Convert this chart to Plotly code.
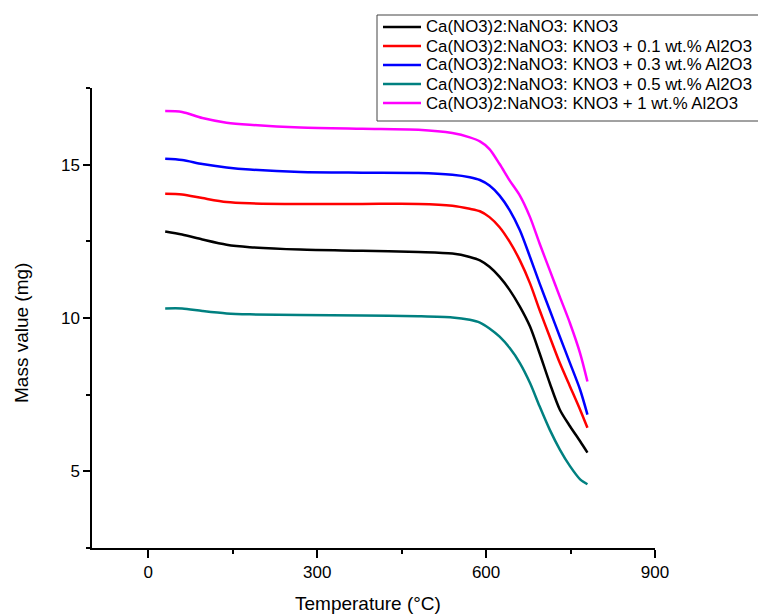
import plotly.graph_objects as go

temperature = [30, 60, 96, 139, 180, 270, 380, 480, 540, 571, 589, 606, 624, 642,
               660, 678, 695, 713, 731, 749, 767, 780]

mass_base = [12.82, 12.72, 12.56, 12.39, 12.31, 12.23, 12.19, 12.15, 12.10, 11.99, 11.88, 11.67, 11.34, 10.91,
             10.37, 9.72, 8.85, 7.88, 7.01, 6.47, 5.98, 5.61]
mass_01 = [14.05, 14.03, 13.91, 13.78, 13.74, 13.72, 13.72, 13.72, 13.66, 13.56, 13.48, 13.29, 12.96, 12.48,
           11.88, 11.13, 10.26, 9.39, 8.53, 7.77, 7.01, 6.42]
mass_03 = [15.19, 15.15, 15.02, 14.91, 14.84, 14.76, 14.74, 14.73, 14.67, 14.59, 14.50, 14.32, 13.99, 13.51,
           12.86, 11.99, 11.13, 10.26, 9.39, 8.53, 7.66, 6.85]
mass_05 = [10.31, 10.31, 10.23, 10.15, 10.12, 10.10, 10.08, 10.06, 10.02, 9.94, 9.85, 9.66, 9.39, 9.02,
           8.53, 7.88, 7.12, 6.36, 5.71, 5.17, 4.74, 4.58]
mass_1 = [16.75, 16.72, 16.52, 16.37, 16.30, 16.21, 16.17, 16.14, 16.03, 15.89, 15.76, 15.51, 15.02, 14.48,
          13.99, 13.29, 12.43, 11.56, 10.69, 9.83, 8.85, 7.93]

series_names = [
    "Ca(NO3)2:NaNO3: KNO3",
    "Ca(NO3)2:NaNO3: KNO3 + 0.1 wt.% Al2O3",
    "Ca(NO3)2:NaNO3: KNO3 + 0.3 wt.% Al2O3",
    "Ca(NO3)2:NaNO3: KNO3 + 0.5 wt.% Al2O3",
    "Ca(NO3)2:NaNO3: KNO3 + 1 wt.% Al2O3",
]
series_values = [mass_base, mass_01, mass_03, mass_05, mass_1]
series_colors = ["#000000", "#FF0000", "#0000FF", "#008080", "#FF00FF"]

x_ticks = [0, 300, 600, 900]
y_ticks = [5, 10, 15]

FONT = "Liberation Sans, Arial, sans-serif"

# plot area in pixels
L, R, T, B = 92, 655, 88, 548


def px_x(p):
    return (p - L) / (R - L)


def px_y(p):
    return (B - p) / (B - T)


fig = go.Figure()
for name, vals, col in zip(series_names, series_values, series_colors):
    fig.add_trace(go.Scatter(
        x=temperature, y=vals, name=name, mode="lines", showlegend=False,
        line=dict(color=col, width=2.5, shape="spline", smoothing=0.8),
    ))

# custom legend (box, line samples, labels)
shapes = [dict(type="rect", xref="paper", yref="paper",
               x0=px_x(377), x1=px_x(820), y0=px_y(121), y1=px_y(15),
               line=dict(color="#444444", width=1), fillcolor="white", layer="above")]
annotations = []
row_y = [27, 46, 65, 84, 103]
for name, col, ry in zip(series_names, series_colors, row_y):
    shapes.append(dict(type="line", xref="paper", yref="paper",
                       x0=px_x(383), x1=px_x(421), y0=px_y(ry), y1=px_y(ry),
                       line=dict(color=col, width=2.5), layer="above"))
    annotations.append(dict(text=name, xref="paper", yref="paper", x=px_x(424), y=px_y(ry),
                            xanchor="left", yanchor="middle", showarrow=False,
                            font=dict(family=FONT, size=16.8, color="black")))

annotations.append(dict(text="Mass value (mg)", xref="paper", yref="paper", x=px_x(21), y=px_y(333),
                        xanchor="center", yanchor="middle", textangle=-90, showarrow=False,
                        font=dict(family=FONT, size=19, color="black")))
annotations.append(dict(text="Temperature (°C)", xref="paper", yref="paper", x=px_x(368), y=px_y(603),
                        xanchor="center", yanchor="middle", showarrow=False,
                        font=dict(family=FONT, size=19, color="black")))

fig.update_layout(
    width=758, height=615,
    margin=dict(l=L, r=758 - R, t=T, b=615 - B, autoexpand=False),
    plot_bgcolor="white", paper_bgcolor="white",
    font=dict(family=FONT, color="black", size=17),
    showlegend=False,
    shapes=shapes,
    annotations=annotations,
    xaxis=dict(
        range=[-100, 900], tickvals=x_ticks, ticktext=[str(v) for v in x_ticks],
        showgrid=False, zeroline=False, showline=True, linecolor="black", linewidth=1.5,
        ticks="outside", ticklen=8, tickwidth=1.5, tickcolor="black",
        tickfont=dict(size=17),
        minor=dict(dtick=150, tick0=0, ticks="outside", ticklen=4, tickwidth=1.5, tickcolor="black", showgrid=False),
    ),
    yaxis=dict(
        range=[2.5, 17.5], tickvals=y_ticks, ticktext=[str(v) for v in y_ticks],
        showgrid=False, zeroline=False, showline=True, linecolor="black", linewidth=1.5,
        ticks="outside", ticklen=7, tickwidth=1.5, tickcolor="black",
        tickfont=dict(size=17),
        minor=dict(dtick=2.5, tick0=0, ticks="outside", ticklen=4, tickwidth=1.5, tickcolor="black", showgrid=False),
    ),
)

fig.write_html("out.html")
